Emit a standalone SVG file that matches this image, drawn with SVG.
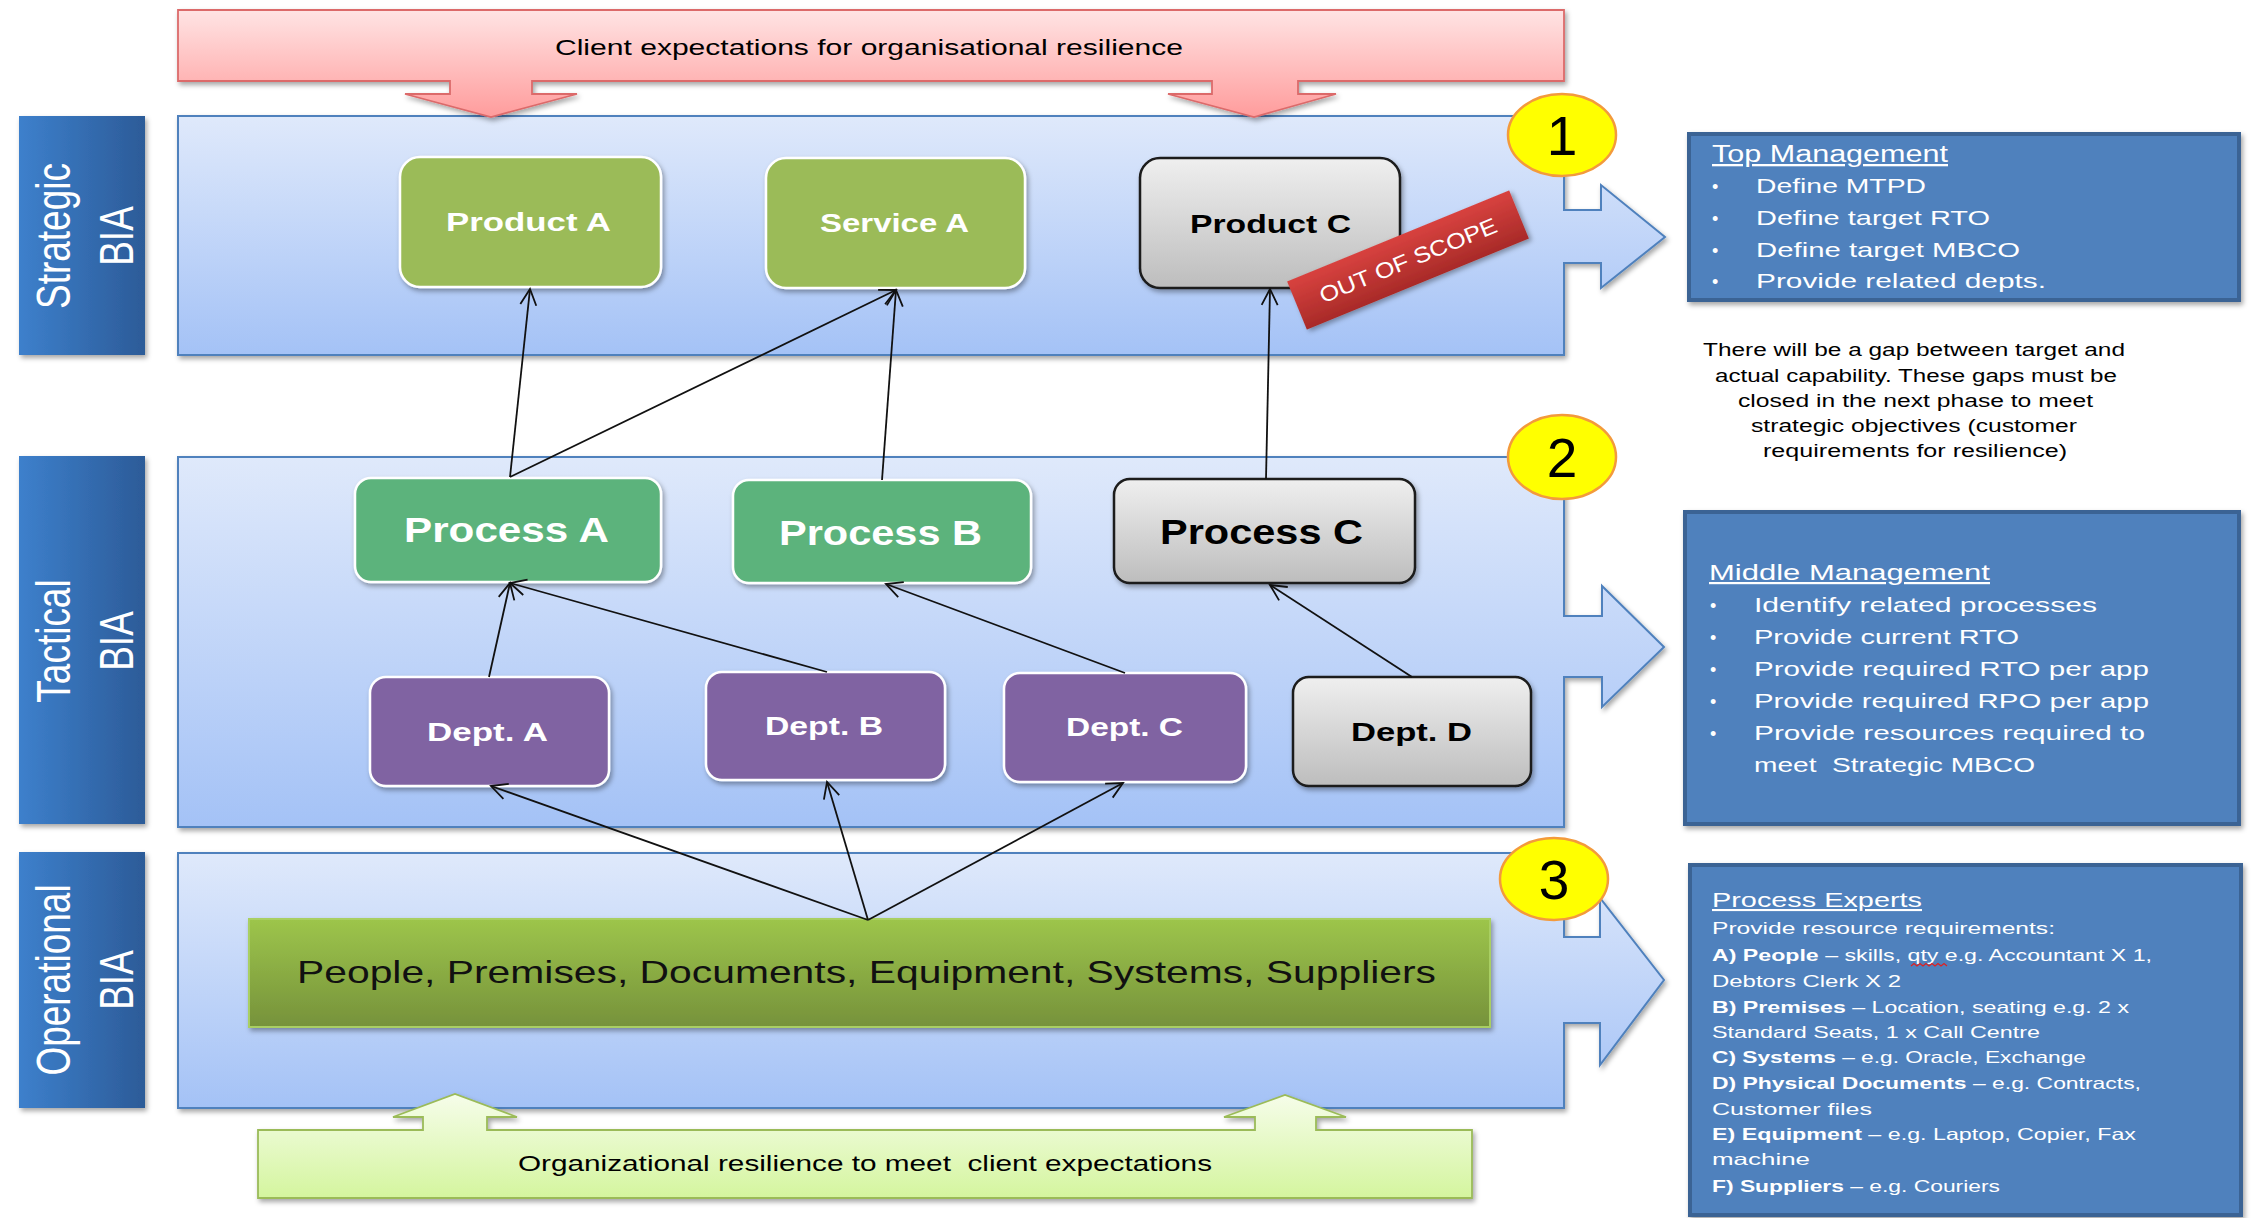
<svg xmlns="http://www.w3.org/2000/svg" width="2255" height="1218" viewBox="0 0 2255 1218">
  <defs>
    <style>
      text { font-family: "Liberation Sans", Arial, sans-serif; }
      .band { stroke: #4f81bd; stroke-width: 2; fill: url(#gBand); filter: url(#shadow); }
      .side { fill: url(#gSide); filter: url(#shadow); }
      .sideTxt { fill: #ffffff; font-size: 37px; text-anchor: middle; }
      .nodeG { fill: #9bbb59; stroke: #ffffff; stroke-width: 2.5; filter: url(#shadow); }
      .nodeP { fill: #5cb37c; stroke: #ffffff; stroke-width: 2.5; filter: url(#shadow); }
      .nodeD { fill: #8064a2; stroke: #ffffff; stroke-width: 2.5; filter: url(#shadow); }
      .nodeX { fill: url(#gGray); stroke: #1a1a1a; stroke-width: 2.5; filter: url(#shadow); }
      .lblW { fill: #ffffff; font-weight: bold; }
      .lblK { fill: #000000; font-weight: bold; }
      .panel { fill: #4f81bd; stroke: #3a6494; stroke-width: 4; filter: url(#shadow); }
      .pTxt { fill: #ffffff; }
      .head { text-decoration: underline; }
      .badge { fill: #ffff00; stroke: #f39a3c; stroke-width: 2.5; }
      .digit { font-size: 55px; text-anchor: middle; fill: #000000; }
      .conn { stroke: #111111; stroke-width: 1.8; fill: none; marker-end: url(#open); }
      .note { font-size: 17.5px; fill: #000000; }
    </style>
    <linearGradient id="gBand" x1="0" y1="0" x2="0" y2="1">
      <stop offset="0" stop-color="#dfe9fb"/>
      <stop offset="1" stop-color="#a4c2f6"/>
    </linearGradient>
    <linearGradient id="gSide" x1="0" y1="0" x2="1" y2="0">
      <stop offset="0" stop-color="#3d80cc"/>
      <stop offset="1" stop-color="#2c5b98"/>
    </linearGradient>
    <linearGradient id="gGray" x1="0" y1="0" x2="0" y2="1">
      <stop offset="0" stop-color="#efefef"/>
      <stop offset="1" stop-color="#bdbdbd"/>
    </linearGradient>
    <linearGradient id="gPink" x1="0" y1="0" x2="0" y2="1">
      <stop offset="0" stop-color="#ffe4e4"/>
      <stop offset="1" stop-color="#ff9c9c"/>
    </linearGradient>
    <linearGradient id="gLime" x1="0" y1="0" x2="0" y2="1">
      <stop offset="0" stop-color="#f6fdea"/>
      <stop offset="1" stop-color="#d4f59e"/>
    </linearGradient>
    <linearGradient id="gRes" x1="0" y1="0" x2="0" y2="1">
      <stop offset="0" stop-color="#9dc54b"/>
      <stop offset="1" stop-color="#76923b"/>
    </linearGradient>
    <linearGradient id="gScope" x1="0" y1="0" x2="0" y2="1">
      <stop offset="0" stop-color="#d8423f"/>
      <stop offset="1" stop-color="#a82a28"/>
    </linearGradient>
    <radialGradient id="gGlow" cx="0.5" cy="0.5" r="0.5">
      <stop offset="0.8" stop-color="#ffff00"/>
      <stop offset="1" stop-color="#f7b04a"/>
    </radialGradient>
    <filter id="shadow" x="-10%" y="-10%" width="125%" height="135%">
      <feDropShadow dx="2" dy="3" stdDeviation="2.5" flood-color="#000" flood-opacity="0.35"/>
    </filter>
    <marker id="open" viewBox="-18 -10 20 20" refX="0" refY="0" markerWidth="20" markerHeight="20" orient="auto" markerUnits="userSpaceOnUse">
      <path d="M-16,-8 L0,0 L-16,8" fill="none" stroke="#111" stroke-width="1.8"/>
    </marker>
  </defs>

  <rect width="2255" height="1218" fill="#ffffff"/>

  <!-- Side labels -->
  <g id="label-strategic">
    <rect class="side" x="19" y="116" width="126" height="239"/>
    <g transform="translate(82,236) scale(1.32,1) rotate(-90)">
      <text class="sideTxt" x="0" y="-9">Strategic</text>
      <text class="sideTxt" x="0" y="39">BIA</text>
    </g>
  </g>
  <g id="label-tactical">
    <rect class="side" x="19" y="456" width="126" height="368"/>
    <g transform="translate(82,641) scale(1.32,1) rotate(-90)">
      <text class="sideTxt" x="0" y="-9">Tactical</text>
      <text class="sideTxt" x="0" y="39">BIA</text>
    </g>
  </g>
  <g id="label-operational">
    <rect class="side" x="19" y="852" width="126" height="256"/>
    <g transform="translate(82,980) scale(1.32,1) rotate(-90)">
      <text class="sideTxt" x="0" y="-9">Operational</text>
      <text class="sideTxt" x="0" y="39">BIA</text>
    </g>
  </g>

  <!-- Bands with outgoing block arrows -->
  <g id="band-strategic">
    <path class="band" d="M178,116 H1564 V210 H1601 V185 L1665,237 L1601,288 V263 H1564 V355 H178 Z"/>
  </g>
  <g id="band-tactical">
    <path class="band" d="M178,457 H1564 V616 H1602 V586 L1664,647 L1602,707 V677 H1564 V827 H178 Z"/>
  </g>
  <g id="band-operational">
    <path class="band" d="M178,853 H1564 V937 H1600 V898 L1664,980 L1600,1065 V1023 H1564 V1108 H178 Z"/>
  </g>

  <!-- Client expectations banner -->
  <g id="client-expectations">
    <path d="M178,10 H1564 V81 H1298 V94 H1336 L1254,117 L1168,94 H1212 V81 H532 V94 H577 L491,117 L405,94 H450 V81 H178 Z" fill="url(#gPink)" stroke="#dc6b6b" stroke-width="1.8" filter="url(#shadow)"/>
    <text x="555" y="55" font-size="22" textLength="628" lengthAdjust="spacingAndGlyphs">Client expectations for organisational resilience</text>
  </g>

  <!-- Organisational resilience banner -->
  <g id="org-resilience">
    <path d="M258,1130 H423 V1117 H393 L455,1094 L517,1117 H487 V1130 H1255 V1117 H1224 L1285,1095 L1346,1117 H1316 V1130 H1472 V1198 H258 Z" fill="url(#gLime)" stroke="#9bbb59" stroke-width="1.8" filter="url(#shadow)"/>
    <text x="518" y="1171" font-size="22" textLength="694" lengthAdjust="spacingAndGlyphs" xml:space="preserve">Organizational resilience to meet  client expectations</text>
  </g>

  <!-- Strategic nodes -->
  <g id="product-a">
    <rect class="nodeG" x="400" y="157" width="261" height="130" rx="20"/>
    <text class="lblW" x="446" y="231" font-size="25" textLength="165" lengthAdjust="spacingAndGlyphs">Product A</text>
  </g>
  <g id="service-a">
    <rect class="nodeG" x="766" y="158" width="259" height="130" rx="20"/>
    <text class="lblW" x="820" y="232" font-size="25" textLength="149" lengthAdjust="spacingAndGlyphs">Service A</text>
  </g>
  <g id="product-c">
    <rect class="nodeX" x="1140" y="158" width="260" height="130" rx="20"/>
    <text class="lblK" x="1190" y="233" font-size="25" textLength="161" lengthAdjust="spacingAndGlyphs">Product C</text>
  </g>
  <g id="out-of-scope">
    <g transform="translate(1408,260) rotate(-22.3)">
      <rect x="-120" y="-26" width="240" height="52" fill="url(#gScope)" filter="url(#shadow)"/>
      <text x="-95" y="8" font-size="22" fill="#ffffff" textLength="190" lengthAdjust="spacingAndGlyphs">OUT OF SCOPE</text>
    </g>
  </g>

  <!-- Tactical nodes -->
  <g id="process-a">
    <rect class="nodeP" x="355" y="478" width="306" height="104" rx="16"/>
    <text class="lblW" x="404" y="542" font-size="35" textLength="205" lengthAdjust="spacingAndGlyphs">Process A</text>
  </g>
  <g id="process-b">
    <rect class="nodeP" x="733" y="480" width="298" height="103" rx="16"/>
    <text class="lblW" x="779" y="545" font-size="35" textLength="203" lengthAdjust="spacingAndGlyphs">Process B</text>
  </g>
  <g id="process-c">
    <rect class="nodeX" x="1114" y="479" width="301" height="104" rx="16"/>
    <text class="lblK" x="1160" y="544" font-size="35" textLength="203" lengthAdjust="spacingAndGlyphs">Process C</text>
  </g>
  <g id="dept-a">
    <rect class="nodeD" x="370" y="677" width="239" height="109" rx="16"/>
    <text class="lblW" x="427" y="741" font-size="26" textLength="121" lengthAdjust="spacingAndGlyphs">Dept. A</text>
  </g>
  <g id="dept-b">
    <rect class="nodeD" x="706" y="672" width="239" height="108" rx="16"/>
    <text class="lblW" x="765" y="735" font-size="26" textLength="118" lengthAdjust="spacingAndGlyphs">Dept. B</text>
  </g>
  <g id="dept-c">
    <rect class="nodeD" x="1004" y="673" width="242" height="109" rx="16"/>
    <text class="lblW" x="1066" y="736" font-size="26" textLength="117" lengthAdjust="spacingAndGlyphs">Dept. C</text>
  </g>
  <g id="dept-d">
    <rect class="nodeX" x="1293" y="677" width="238" height="109" rx="16"/>
    <text class="lblK" x="1351" y="741" font-size="26" textLength="121" lengthAdjust="spacingAndGlyphs">Dept. D</text>
  </g>

  <!-- Operational resources -->
  <g id="resources">
    <rect x="249" y="919" width="1241" height="108" fill="url(#gRes)" stroke="#a9cf63" stroke-width="2" filter="url(#shadow)"/>
    <text x="297" y="983" font-size="31.5" fill="#111111" textLength="1139" lengthAdjust="spacingAndGlyphs">People, Premises, Documents, Equipment, Systems, Suppliers</text>
  </g>

  <!-- Connectors -->
  <g id="connectors">
    <line class="conn" x1="510" y1="477" x2="530" y2="289"/>
    <line class="conn" x1="510" y1="477" x2="896" y2="290"/>
    <line class="conn" x1="882" y1="480" x2="896" y2="290"/>
    <line class="conn" x1="1266" y1="479" x2="1270" y2="289"/>
    <line class="conn" x1="489" y1="677" x2="510" y2="583"/>
    <line class="conn" x1="827" y1="672" x2="510" y2="583"/>
    <line class="conn" x1="1125" y1="673" x2="886" y2="584"/>
    <line class="conn" x1="1412" y1="677" x2="1270" y2="585"/>
    <line class="conn" x1="868" y1="920" x2="491" y2="786"/>
    <line class="conn" x1="868" y1="920" x2="827" y2="782"/>
    <line class="conn" x1="868" y1="920" x2="1123" y2="783"/>
  </g>

  <!-- Level badges -->
  <g id="badge-1">
    <ellipse class="badge" cx="1562" cy="135" rx="54" ry="41" fill="url(#gGlow)"/>
    <text class="digit" x="1562" y="155">1</text>
  </g>
  <g id="badge-2">
    <ellipse class="badge" cx="1562" cy="457" rx="54" ry="42" fill="url(#gGlow)"/>
    <text class="digit" x="1562" y="477">2</text>
  </g>
  <g id="badge-3">
    <ellipse class="badge" cx="1554" cy="879" rx="54" ry="41" fill="url(#gGlow)"/>
    <text class="digit" x="1554" y="899">3</text>
  </g>

  <!-- Top management panel -->
  <g id="panel-top">
    <rect class="panel" x="1689" y="134" width="550" height="166"/>
    <g class="pTxt" fill="#ffffff">
      <text class="head" x="1712" y="162" font-size="23" fill="#fff" textLength="236" lengthAdjust="spacingAndGlyphs">Top Management</text>
      <text x="1712" y="193" font-size="18" fill="#fff">•</text>
      <text x="1712" y="225" font-size="18" fill="#fff">•</text>
      <text x="1712" y="257" font-size="18" fill="#fff">•</text>
      <text x="1712" y="288" font-size="18" fill="#fff">•</text>
      <text x="1756" y="193" font-size="21" fill="#fff" textLength="170" lengthAdjust="spacingAndGlyphs">Define MTPD</text>
      <text x="1756" y="225" font-size="21" fill="#fff" textLength="234" lengthAdjust="spacingAndGlyphs">Define target RTO</text>
      <text x="1756" y="257" font-size="21" fill="#fff" textLength="264" lengthAdjust="spacingAndGlyphs">Define target MBCO</text>
      <text x="1756" y="288" font-size="21" fill="#fff" textLength="290" lengthAdjust="spacingAndGlyphs">Provide related depts.</text>
    </g>
  </g>

  <!-- Gap note -->
  <g id="gap-note">
    <text class="note" x="1703" y="356" textLength="422" lengthAdjust="spacingAndGlyphs">There will be a gap between target and</text>
    <text class="note" x="1715" y="382" textLength="402" lengthAdjust="spacingAndGlyphs">actual capability. These gaps must be</text>
    <text class="note" x="1738" y="407" textLength="355" lengthAdjust="spacingAndGlyphs">closed in the next phase to meet</text>
    <text class="note" x="1751" y="432" textLength="326" lengthAdjust="spacingAndGlyphs">strategic objectives (customer</text>
    <text class="note" x="1763" y="457" textLength="304" lengthAdjust="spacingAndGlyphs">requirements for resilience)</text>
  </g>

  <!-- Middle management panel -->
  <g id="panel-middle">
    <rect class="panel" x="1685" y="512" width="554" height="312"/>
    <text class="head" x="1709" y="580" font-size="22" fill="#fff" textLength="281" lengthAdjust="spacingAndGlyphs">Middle Management</text>
    <text x="1710" y="612" font-size="18" fill="#fff">•</text>
    <text x="1710" y="644" font-size="18" fill="#fff">•</text>
    <text x="1710" y="676" font-size="18" fill="#fff">•</text>
    <text x="1710" y="708" font-size="18" fill="#fff">•</text>
    <text x="1710" y="740" font-size="18" fill="#fff">•</text>
    <text x="1754" y="612" font-size="21" fill="#fff" textLength="343" lengthAdjust="spacingAndGlyphs">Identify related processes</text>
    <text x="1754" y="644" font-size="21" fill="#fff" textLength="265" lengthAdjust="spacingAndGlyphs">Provide current RTO</text>
    <text x="1754" y="676" font-size="21" fill="#fff" textLength="395" lengthAdjust="spacingAndGlyphs">Provide required RTO per app</text>
    <text x="1754" y="708" font-size="21" fill="#fff" textLength="395" lengthAdjust="spacingAndGlyphs">Provide required RPO per app</text>
    <text x="1754" y="740" font-size="21" fill="#fff" textLength="391" lengthAdjust="spacingAndGlyphs">Provide resources required to</text>
    <text x="1754" y="772" font-size="21" fill="#fff" textLength="281" lengthAdjust="spacingAndGlyphs" xml:space="preserve">meet  Strategic MBCO</text>
  </g>

  <!-- Process experts panel -->
  <g id="panel-experts">
    <rect class="panel" x="1690" y="865" width="551" height="350"/>
    <text class="head" x="1712" y="907" font-size="21" fill="#fff" textLength="210" lengthAdjust="spacingAndGlyphs">Process Experts</text>
    <g font-size="16.5" fill="#fff">
      <text x="1712" y="934" textLength="343" lengthAdjust="spacingAndGlyphs">Provide resource requirements:</text>
      <text x="1712" y="961" textLength="440" lengthAdjust="spacingAndGlyphs"><tspan font-weight="bold">A) People</tspan> – skills, qty e.g. Accountant X 1,</text>
      <text x="1712" y="987" textLength="189" lengthAdjust="spacingAndGlyphs">Debtors Clerk X 2</text>
      <text x="1712" y="1013" textLength="417" lengthAdjust="spacingAndGlyphs"><tspan font-weight="bold">B) Premises</tspan> – Location, seating e.g. 2 x</text>
      <text x="1712" y="1038" textLength="328" lengthAdjust="spacingAndGlyphs">Standard Seats, 1 x Call Centre</text>
      <text x="1712" y="1063" textLength="374" lengthAdjust="spacingAndGlyphs"><tspan font-weight="bold">C) Systems</tspan> – e.g. Oracle, Exchange</text>
      <text x="1712" y="1089" textLength="429" lengthAdjust="spacingAndGlyphs"><tspan font-weight="bold">D) Physical Documents</tspan> – e.g. Contracts,</text>
      <text x="1712" y="1115" textLength="160" lengthAdjust="spacingAndGlyphs">Customer files</text>
      <text x="1712" y="1140" textLength="424" lengthAdjust="spacingAndGlyphs"><tspan font-weight="bold">E) Equipment</tspan> – e.g. Laptop, Copier, Fax</text>
      <text x="1712" y="1165" textLength="98" lengthAdjust="spacingAndGlyphs">machine</text>
      <text x="1712" y="1192" textLength="288" lengthAdjust="spacingAndGlyphs"><tspan font-weight="bold">F) Suppliers</tspan> – e.g. Couriers</text>
    </g>
    <!-- spell-check squiggle under "qty" -->
    <path d="M1911,966 l3,-2.5 l3,2.5 l3,-2.5 l3,2.5 l3,-2.5 l3,2.5 l3,-2.5 l3,2.5 l3,-2.5 l3,2.5 l3,-2.5 l3,2.5" fill="none" stroke="#e02020" stroke-width="1.2"/>
  </g>
</svg>
